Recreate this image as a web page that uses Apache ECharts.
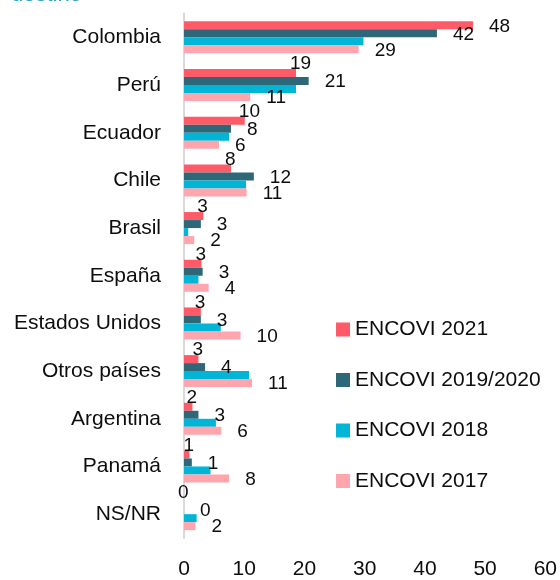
<!DOCTYPE html>
<html>
<head>
<meta charset="utf-8">
<script src="https://cdn.jsdelivr.net/npm/echarts@6/dist/echarts.min.js"></script>
<style>
  html, body { margin: 0; padding: 0; background: #fff; }
  #chartBox { width: 560px; height: 580px; }
</style>
</head>
<body>
<div id="chartBox"></div>
<script>
// países de destino
const categories = ['Colombia', 'Perú', 'Ecuador', 'Chile', 'Brasil', 'España',
  'Estados Unidos', 'Otros países', 'Argentina', 'Panamá', 'NS/NR'];

// largo de las barras (%)
const encovi2021 = [48, 18.6, 10.1, 7.8, 3.2, 2.9, 2.8, 2.4, 1.4, 0.9, 0];
const encovi2019 = [42, 20.7, 7.8, 11.6, 2.8, 3.1, 2.8, 3.5, 2.4, 1.3, 0];
const encovi2018 = [29.8, 18.6, 7.5, 10.3, 0.7, 2.4, 6.1, 10.8, 5.3, 4.4, 2.1];
const encovi2017 = [29.0, 11.0, 5.8, 10.4, 1.7, 4.1, 9.4, 11.3, 6.2, 7.5, 1.9];

// etiquetas tal como aparecen
const labels2021 = [48, 19, 10, 8, 3, 3, 3, 3, 2, 1, 0];
const labels2019 = [42, 21, 8, 12, 3, 3, 3, 4, 3, 1, 0];
const labels2017 = [29, 11, 6, 11, 2, 4, 10, 11, 6, 8, 2];

const xTicks = [0, 10, 20, 30, 40, 50, 60];

const font = 'Liberation Sans';
const ink = '#0d0d0d';

function withLabels (values, texts, offset, firstOffset) {
  return values.map(function (v, i) {
    let item = { value: v, label: { formatter: String(texts[i]) } };
    if (i === 0 && firstOffset) item.label.offset = firstOffset;
    return item;
  });
}

function barSeries (name, color, data, labelOffset) {
  return {
    name: name,
    type: 'bar',
    barWidth: 8,
    barGap: '0%',
    itemStyle: { color: color },
    label: {
      show: !!labelOffset,
      position: 'right',
      distance: 16,
      offset: labelOffset || [0, 0],
      fontFamily: font,
      fontSize: 19,
      color: ink
    },
    data: data
  };
}

let myChart = echarts.init(document.getElementById('chartBox'));
myChart.setOption({
  animation: false,
  textStyle: { fontFamily: font },
  // el título queda casi fuera del recorte
  title: {
    text: 'destino',
    left: 11,
    top: -16,
    padding: 0,
    textStyle: { color: '#2a9dc2', fontSize: 22, fontWeight: 'normal', fontFamily: font }
  },
  legend: {
    orient: 'vertical',
    left: 336,
    top: 319,
    padding: 0,
    itemWidth: 14,
    itemHeight: 14,
    itemGap: 29.5,
    icon: 'rect',
    textStyle: { fontSize: 21, color: ink, lineHeight: 20, fontFamily: font }
  },
  grid: { left: 184, right: 10.5, top: 13.5, bottom: 40.8, containLabel: false },
  xAxis: {
    type: 'value',
    min: xTicks[0],
    max: xTicks[xTicks.length - 1],
    interval: 10,
    axisLine: { show: false },
    axisTick: { show: false },
    splitLine: { show: false },
    axisLabel: { fontSize: 21, color: ink, margin: 21, fontFamily: font }
  },
  yAxis: {
    type: 'category',
    inverse: true,
    data: categories,
    axisLine: { show: true, lineStyle: { color: '#d9d9d9', width: 2 } },
    axisTick: { show: false },
    axisLabel: { fontSize: 21, color: ink, margin: 23, fontFamily: font }
  },
  series: [
    barSeries('ENCOVI 2021', '#ff5a67', withLabels(encovi2021, labels2021, null, [0, 1]), [-22, -9]),
    barSeries('ENCOVI 2019/2020', '#2e6878', withLabels(encovi2019, labels2019), [0, 1]),
    barSeries('ENCOVI 2018', '#00b5d5', encovi2018, null),
    barSeries('ENCOVI 2017', '#ffa5ad', withLabels(encovi2017, labels2017), [0, 1])
  ]
});
</script>
</body>
</html>
